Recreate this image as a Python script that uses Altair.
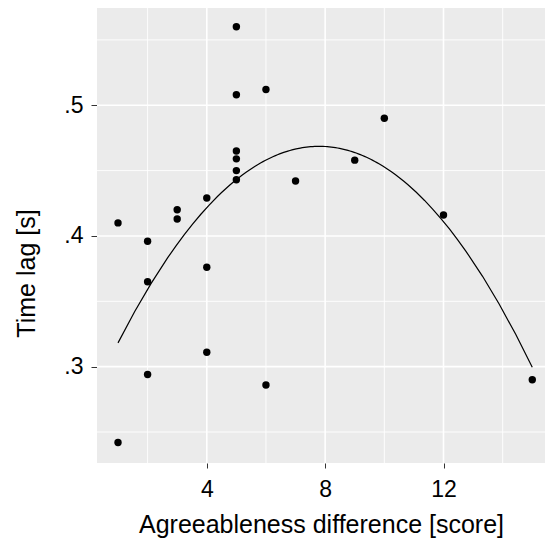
import altair as alt
import pandas as pd

# Data
agree_diff = [1, 1, 2, 2, 2, 3, 3, 4, 4, 4, 5, 5, 5, 5, 5, 5, 6, 6, 7, 9, 10, 12, 15]
time_lag = [0.410, 0.242, 0.396, 0.365, 0.294, 0.420, 0.413, 0.429, 0.376, 0.311,
            0.560, 0.508, 0.465, 0.459, 0.450, 0.443, 0.512, 0.286, 0.442, 0.458,
            0.490, 0.416, 0.290]

x_major = [4, 8, 12]
x_minor = [2, 6, 10, 14]
y_major = [0.3, 0.4, 0.5]
y_minor = [0.25, 0.35, 0.45, 0.55]

X_DOMAIN = [0.29, 15.43]
Y_DOMAIN = [0.2263, 0.5744]

df = pd.DataFrame({"x": agree_diff, "y": time_lag})

xs = alt.Scale(domain=X_DOMAIN, nice=False, zero=False)
ys = alt.Scale(domain=Y_DOMAIN, nice=False, zero=False)

FONT = "Liberation Sans"

bg = alt.Chart(pd.DataFrame({"a": [0]})).mark_rect(color="#EBEBEB").encode(
    x=alt.value(0), x2=alt.value("width"), y=alt.value(0), y2=alt.value("height")
)

vminor = alt.Chart(pd.DataFrame({"v": x_minor})).mark_rule(color="white", strokeWidth=0.9).encode(
    x=alt.X("v:Q", scale=xs)
)
hminor = alt.Chart(pd.DataFrame({"v": y_minor})).mark_rule(color="white", strokeWidth=0.9).encode(
    y=alt.Y("v:Q", scale=ys)
)
vmajor = alt.Chart(pd.DataFrame({"v": x_major})).mark_rule(color="white", strokeWidth=1.6).encode(
    x=alt.X("v:Q", scale=xs)
)
hmajor = alt.Chart(pd.DataFrame({"v": y_major})).mark_rule(color="white", strokeWidth=1.6).encode(
    y=alt.Y("v:Q", scale=ys)
)

base = alt.Chart(df)

points = base.mark_circle(size=55, color="black", opacity=1).encode(
    x=alt.X(
        "x:Q",
        scale=xs,
        axis=alt.Axis(
            values=x_major,
            title="Agreeableness difference [score]",
            grid=False,
            domain=False,
            tickSize=5,
            tickColor="#333333",
            labelFontSize=23,
            labelColor="black",
            labelPadding=10,
            labelFont=FONT,
            titleFont=FONT,
            titleFontSize=25,
            titleFontWeight="normal",
            titleColor="black",
            titlePadding=11,
        ),
    ),
    y=alt.Y(
        "y:Q",
        scale=ys,
        axis=alt.Axis(
            values=y_major,
            title="Time lag [s]",
            grid=False,
            domain=False,
            tickSize=6,
            tickColor="#333333",
            labelFontSize=23,
            labelColor="black",
            labelPadding=8,
            labelFont=FONT,
            labelExpr="substring(format(datum.value, '.1f'), 1)",
            titleFont=FONT,
            titleFontSize=25,
            titleFontWeight="normal",
            titleColor="black",
            titleX=-58,
            titleY=265,
        ),
    ),
)

fit = base.transform_regression("x", "y", method="poly", order=2).mark_line(
    color="black", strokeWidth=1.2
).encode(x=alt.X("x:Q", scale=xs), y=alt.Y("y:Q", scale=ys))

chart = (
    alt.layer(bg, vminor, hminor, vmajor, hmajor, fit, points)
    .properties(
        width=448,
        height=455,
        autosize=alt.AutoSizeParams(type="none"),
        padding={"left": 89, "top": 0, "right": 0, "bottom": 77},
        background="white",
    )
    .configure_view(stroke=None)
)

chart.save("out.html", embed_options={"renderer": "svg", "actions": False})
